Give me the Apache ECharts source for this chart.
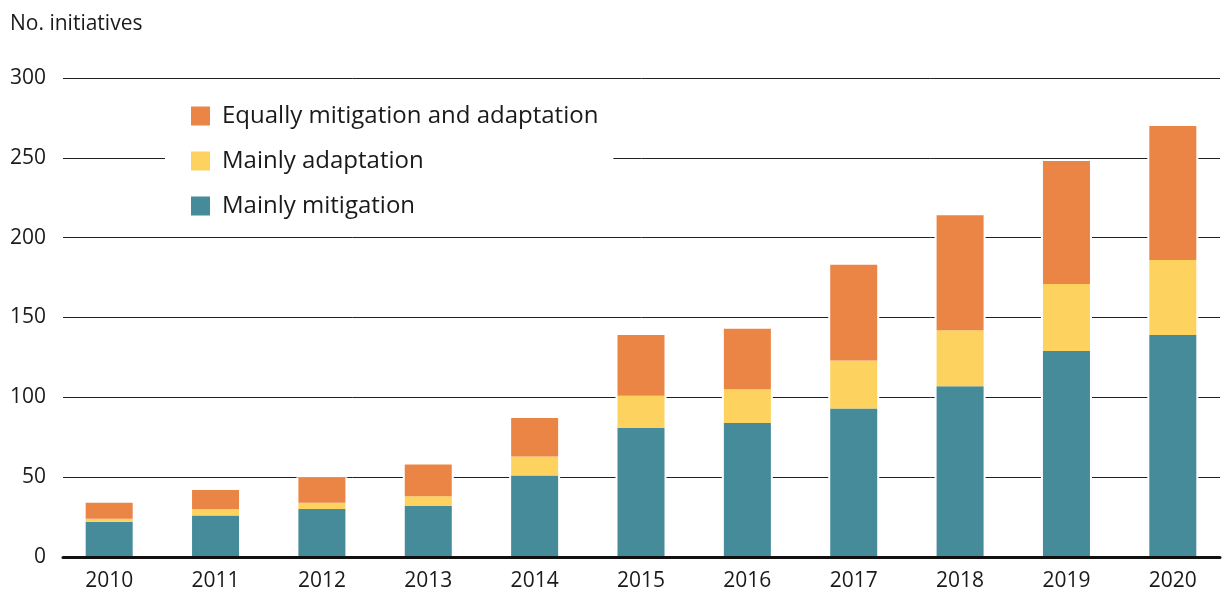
<!DOCTYPE html>
<html>
<head>
<meta charset="utf-8">
<title>Initiatives</title>
<style>
  html, body { margin: 0; padding: 0; background: #fff; }
  #main { width: 1227px; height: 594px; }
</style>
</head>
<body>
<div id="main"></div>
<script src="https://cdn.jsdelivr.net/npm/echarts@6/dist/echarts.min.js"></script>
<script>
var years = ['2010', '2011', '2012', '2013', '2014', '2015', '2016', '2017', '2018', '2019', '2020'];
var mitigation = [22, 26, 30, 32, 51, 81, 84, 93, 107, 129, 139];
var adaptation = [2, 4, 4, 6, 12, 20, 21, 30, 35, 42, 47];
var equally = [10, 12, 16, 20, 24, 38, 38, 60, 72, 77, 84];
var yTicks = { min: 0, max: 300, interval: 50 };

// white band behind each bar so the gridlines stop short of it
var totals = years.map(function (y, i) { return mitigation[i] + adaptation[i] + equally[i]; });

var font = 'Open Sans';
var chart = echarts.init(document.getElementById('main'));
chart.setOption({
  animation: false,
  backgroundColor: '#fff',
  textStyle: { fontFamily: font },
  graphic: [{
    type: 'text', left: 10, top: 14,
    style: { text: 'No. initiatives', font: '21px "Open Sans"', fill: '#1a1a1a' }
  }],
  legend: {
    data: ['Equally mitigation and adaptation', 'Mainly adaptation', 'Mainly mitigation'],
    orient: 'vertical',
    left: 165, top: 94,
    padding: [10, 15, 10, 26],
    backgroundColor: '#fff',
    itemWidth: 19, itemHeight: 19, itemGap: 21,
    icon: 'rect',
    textStyle: { fontFamily: font, fontSize: 24, color: '#1a1a1a', padding: [0, 0, 0, 7] }
  },
  grid: [
    { left: 56, right: 1, top: 78, bottom: 37 },
    { left: 63, right: 7, top: 78, bottom: 37 }
  ],
  xAxis: [
    {
      type: 'category', gridIndex: 0, data: years,
      axisLine: { show: false }, axisTick: { show: false },
      axisLabel: { fontFamily: font, fontSize: 21, color: '#1a1a1a', margin: 14 }
    },
    { type: 'category', gridIndex: 0, data: years, show: false },
    {
      type: 'category', gridIndex: 1, data: years, z: 10,
      axisLine: { show: true, lineStyle: { color: '#111', width: 3 } },
      axisTick: { show: false }, axisLabel: { show: false }
    }
  ],
  yAxis: [
    { type: 'value', gridIndex: 0, min: yTicks.min, max: yTicks.max, interval: yTicks.interval, show: false },
    {
      type: 'value', gridIndex: 1, min: yTicks.min, max: yTicks.max, interval: yTicks.interval,
      axisLine: { show: false }, axisTick: { show: false },
      axisLabel: { fontFamily: font, fontSize: 21, color: '#1a1a1a', margin: 17 },
      splitLine: { lineStyle: { color: '#222', width: 1 } }
    }
  ],
  series: [
    {
      name: 'halo', type: 'bar', xAxisIndex: 1, yAxisIndex: 0, barWidth: 51,
      data: totals, itemStyle: { color: '#fff' }, z: 2, silent: true
    },
    {
      name: 'Mainly mitigation', type: 'bar', stack: 'all', barWidth: 47, z: 3,
      data: mitigation, itemStyle: { color: '#458B99' }
    },
    {
      name: 'Mainly adaptation', type: 'bar', stack: 'all', barWidth: 47, z: 3,
      data: adaptation, itemStyle: { color: '#FDD25F' }
    },
    {
      name: 'Equally mitigation and adaptation', type: 'bar', stack: 'all', barWidth: 47, z: 3,
      data: equally, itemStyle: { color: '#EB8546' }
    }
  ]
});
</script>
</body>
</html>
